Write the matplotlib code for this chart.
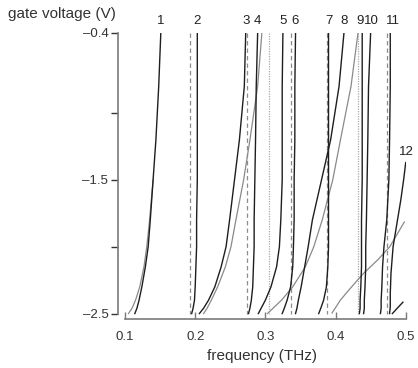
import matplotlib
matplotlib.use('Agg')
import matplotlib.pyplot as plt

plt.rcParams['font.family'] = ['Liberation Sans', 'DejaVu Sans']

# gate voltage levels where the curves were read (V)
volts = [-0.4, -0.8, -1.2, -1.5, -1.8, -2.0, -2.15, -2.3, -2.4, -2.46, -2.5]

# black curves, frequency (THz) at each of the voltages above
mode_1 = [0.151, 0.148, 0.144, 0.140, 0.136, 0.133, 0.129, 0.124, 0.120, 0.117, 0.114]
mode_2 = [0.203, 0.203, 0.203, 0.203, 0.202, 0.202, 0.201, 0.200, 0.199, 0.197, 0.195]
mode_3 = [0.272, 0.270, 0.263, 0.256, 0.249, 0.244, 0.237, 0.228, 0.219, 0.212, 0.206]
mode_4 = [0.289, 0.287, 0.286, 0.285, 0.284, 0.284, 0.283, 0.282, 0.280, 0.278, 0.276]
mode_5 = [0.325, 0.324, 0.324, 0.324, 0.322, 0.320, 0.316, 0.308, 0.300, 0.294, 0.290]
mode_6 = [0.343, 0.342, 0.342, 0.341, 0.341, 0.340, 0.339, 0.336, 0.331, 0.327, 0.324]
mode_7 = [0.390, 0.390, 0.390, 0.390, 0.390, 0.390, 0.389, 0.387, 0.383, 0.379, 0.376]
mode_8 = [0.412, 0.405, 0.393, 0.380, 0.367, 0.361, 0.356, 0.351, 0.347, 0.345, 0.343]
mode_9 = [0.438, 0.438, 0.438, 0.438, 0.437, 0.437, 0.437, 0.436, 0.435, 0.435, 0.434]
mode_10 = [0.450, 0.447, 0.446, 0.445, 0.444, 0.443, 0.443, 0.442, 0.441, 0.441, 0.440]
mode_11 = [0.478, 0.478, 0.477, 0.476, 0.473, 0.469, 0.467, 0.466, 0.465, 0.465, 0.464]

volts_12 = [-1.37, -1.5, -1.65, -2.0, -2.2, -2.35, -2.45, -2.5]
mode_12 = [0.500, 0.497, 0.493, 0.482, 0.479, 0.478, 0.478, 0.477]

volts_13 = [-2.415, -2.46, -2.5]
mode_13 = [0.496, 0.488, 0.481]

# gray curves
volts_g1 = [-1.5, -1.8, -2.0, -2.15, -2.3, -2.4, -2.46, -2.5]
gray_1 = [0.140, 0.135, 0.131, 0.127, 0.121, 0.115, 0.110, 0.105]
gray_2 = [0.295, 0.289, 0.278, 0.269, 0.258, 0.251, 0.243, 0.232, 0.223, 0.217, 0.212]
gray_3 = [0.432, 0.422, 0.407, 0.396, 0.381, 0.369, 0.357, 0.339, 0.323, 0.311, 0.303]
volts_g4 = [-1.815, -1.949, -2.002, -2.099, -2.204, -2.324, -2.399, -2.496]
gray_4 = [0.498, 0.483, 0.477, 0.460, 0.439, 0.419, 0.407, 0.395]

dashed_freqs = [0.193, 0.274, 0.336, 0.388, 0.474]
dotted_freqs = [0.305, 0.432]

mode_names = ['1', '2', '3', '4', '5', '6', '7', '8', '9', '10', '11']
name_nudge = [0, 0, 0, 0, 0, 0, 0, 0, -0.0025, 0.0015, 0.004]
label_12 = '12'

x_ticks = [0.1, 0.2, 0.3, 0.4, 0.5]
x_ticklabels = ['0.1', '0.2', '0.3', '0.4', '0.5']
y_ticks = [-0.4, -1.0, -1.5, -2.0, -2.5]
y_ticklabels = ['\u20130.4', '', '\u20131.5', '', '\u20132.5']

fig = plt.figure(figsize=(4.18, 3.68), dpi=100)
ax = fig.add_axes([0.2823, 0.1332, 0.6883, 0.7772])

black = '#1e1e1e'
gray = '#8a8a8a'

for f in dashed_freqs:
    ax.plot([f, f], [volts[0], volts[-1]], color='#8c8c8c', lw=0.9,
            ls=(0, (3.5, 2.5)))
for f in dotted_freqs:
    ax.plot([f, f], [volts[0], volts[-1]], color='#a8a8a8', lw=0.9,
            ls=(0, (1, 1)))

ax.plot(gray_1, volts_g1, color=gray, lw=0.9)
ax.plot(gray_2, volts, color=gray, lw=0.9)
ax.plot(gray_3, volts, color=gray, lw=0.9)
ax.plot(gray_4, volts_g4, color=gray, lw=0.9)

modes = [mode_1, mode_2, mode_3, mode_4, mode_5, mode_6, mode_7, mode_8,
         mode_9, mode_10, mode_11]
for m, name, dx in zip(modes, mode_names, name_nudge):
    ax.plot(m, volts, color=black, lw=1.0)
    ax.text(m[0] + dx, -0.31, name, ha='center', va='center', fontsize=9.5,
            color='#222222', clip_on=False)
ax.plot(mode_12, volts_12, color=black, lw=1.0)
ax.text(0.5015, -1.29, label_12, ha='center', va='center', fontsize=9.5,
        color='#222222', clip_on=False)
ax.plot(mode_13, volts_13, color=black, lw=1.0)

ax.set_xlim(0.09, 0.5)
ax.set_ylim(-2.5407, -0.4)

for s in ['top', 'right']:
    ax.spines[s].set_visible(False)
ax.spines['left'].set_bounds(-2.5, -0.4)
ax.spines['bottom'].set_bounds(0.1, 0.5)
for s in ['left', 'bottom']:
    ax.spines[s].set_color('#7a7a7a')
    ax.spines[s].set_linewidth(1.2)

ax.set_xticks(x_ticks)
ax.set_xticklabels(x_ticklabels)
ax.set_yticks(y_ticks)
ax.set_yticklabels(y_ticklabels)
ax.tick_params(axis='x', direction='in', length=5, width=1.0, color='#7a7a7a',
               labelsize=9.5, labelcolor='#333333', pad=9)
ax.tick_params(axis='y', direction='out', length=5, width=1.0, color='#333333',
               labelsize=9.5, labelcolor='#333333', pad=2)

ax.set_xlabel('frequency (THz)', fontsize=11, color='#333333', labelpad=4)
fig.text(0.018, 0.963, 'gate voltage (V)', fontsize=11, color='#333333',
         ha='left', va='center')

fig.savefig('out.png', dpi=100)
